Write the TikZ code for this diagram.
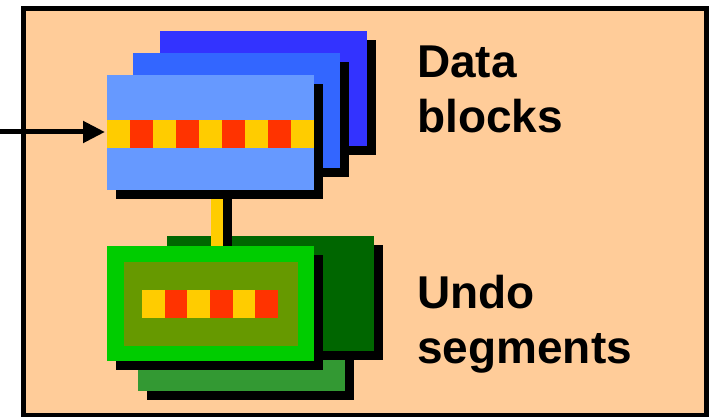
\documentclass[tikz,border=0pt]{standalone}
\usepackage{fontspec}
\setmainfont{Liberation Sans}
\usetikzlibrary{arrows.meta,shadows}
\definecolor{bgc}{HTML}{FFCC99}
\definecolor{bluea}{HTML}{6699FF}
\definecolor{blueb}{HTML}{3366FF}
\definecolor{bluec}{HTML}{3333FF}
\definecolor{yel}{HTML}{FFCC00}
\definecolor{redc}{HTML}{FF3300}
\definecolor{dkgreen}{HTML}{006600}
\definecolor{mdgreen}{HTML}{339933}
\definecolor{brgreen}{HTML}{00CC00}
\definecolor{olive}{HTML}{669900}
\pgfdeclarelayer{bglayer}
\pgfdeclarelayer{underlayer}
\pgfdeclarelayer{connlayer}
\pgfsetlayers{bglayer,underlayer,connlayer,main}
\begin{document}
\begin{tikzpicture}[x=1pt,y=-1pt,
  blk/.style={draw=none,inner sep=0pt,outer sep=0pt,minimum width=207pt,minimum height=115pt,anchor=north west,
    drop shadow={shadow xshift=9pt,shadow yshift=-9pt,fill=black,opacity=1}},
  plain/.style={draw=none,inner sep=0pt,outer sep=0pt,anchor=north west},
  lbl/.style={anchor=north west,align=left,inner sep=0pt,font=\fontsize{46}{55}\selectfont\bfseries}]
\useasboundingbox (0,0) rectangle (715,417);
\begin{pgfonlayer}{bglayer}
  \draw[line width=5pt,fill=bgc] (23,9) rectangle (706,415);
\end{pgfonlayer}
% data blocks
\node[blk,fill=bluec] (db3) at (160,31) {};
\node[blk,fill=blueb] (db2) at (133,53) {};
\node[blk,fill=bluea] (db1) at (107,75) {};
\node[plain,fill=yel,minimum width=207pt,minimum height=28pt] (dstripe) at (107,120) {};
\foreach \i in {1,3,5,7} \fill[redc] (107+\i*23,120) rectangle +(23,28);
% undo segments
\begin{pgfonlayer}{underlayer}
  \node[blk,fill=mdgreen] (us3) at (138,276) {};
  \node[blk,fill=dkgreen] (us2) at (167,236) {};
\end{pgfonlayer}
\node[blk,fill=brgreen] (us1) at (107,246) {};
\node[plain,fill=olive,minimum width=174pt,minimum height=84pt] (uinner) at (124,262) {};
\node[plain,fill=yel,minimum width=136pt,minimum height=28pt] (ustripe) at (142,290) {};
\foreach \i in {1,3,5} \fill[redc] (142+\i*22.67,290) rectangle +(22.67,28);
% connector
\begin{pgfonlayer}{connlayer}
  \draw[line width=12pt,black] ([xshift=15.5pt]db1.south) -- ([xshift=15.5pt]us1.north);
  \draw[line width=12pt,yel] ([xshift=6.5pt]db1.south) -- ([xshift=6.5pt]us1.north);
\end{pgfonlayer}
% arrow
\coordinate (src) at (0,132);
\draw[line width=5pt,-{Triangle[length=22pt,width=21pt]},shorten >=2pt] (src) -- (dstripe.west |- src);
% labels
\node[lbl] (dlabel) at (417,46) {Data\\blocks};
\node[lbl] (ulabel) at (417,275) {Undo\\segments};
\end{tikzpicture}
\end{document}
